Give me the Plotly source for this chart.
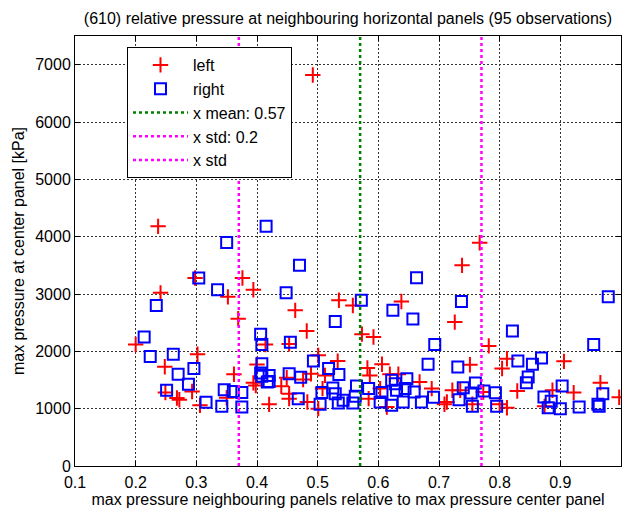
import plotly.graph_objects as go

title_text = "(610) relative pressure at neighbouring horizontal panels (95 observations)"
x_label = "max pressure neighbouring panels relative to max pressure center panel"
y_label = "max pressure at center panel [kPa]"

left_x = [0.237, 0.298, 0.376, 0.394, 0.241, 0.352, 0.369, 0.200, 0.414, 0.302, 0.248, 0.400,
          0.362, 0.394, 0.398, 0.249, 0.268, 0.272, 0.293, 0.350, 0.306, 0.420, 0.492,
          0.535, 0.558, 0.638, 0.463, 0.482, 0.573, 0.592, 0.453, 0.501, 0.533, 0.606, 0.582,
          0.586, 0.489, 0.476, 0.449, 0.440, 0.512, 0.619, 0.633, 0.668, 0.688, 0.508, 0.603,
          0.453, 0.453, 0.483, 0.501, 0.584, 0.614,
          0.767, 0.738, 0.726, 0.782, 0.812, 0.804, 0.751, 0.906, 0.966, 0.997, 0.922, 0.887,
          0.874, 0.829, 0.755, 0.773, 0.722, 0.735, 0.709, 0.713, 0.812, 0.800]
left_y = [4180, 3280, 3280, 3075, 3020, 2950, 2570, 2120, 2120, 1950, 1730, 1770,
          1600, 1450, 1405, 1280, 1185, 1155, 1300, 1190, 1060, 1075, 6820,
          2890, 2800, 2870, 2715, 2355, 2300, 2250, 2130, 1930, 1830, 1775, 1710,
          1580, 1610, 1510, 1540, 1390, 1580, 1600, 1600, 1465, 1350, 1350, 1350,
          1260, 1175, 1115, 1000, 1175, 1030,
          3895, 3500, 2510, 2095, 1870, 1700, 1767, 1825, 1453, 1200, 1280, 1320,
          1040, 1308, 1076, 1290, 1320, 1320, 1076, 1116, 1017, 1076]

right_x = [0.415, 0.350, 0.304, 0.335, 0.234, 0.406, 0.214, 0.408, 0.224, 0.262, 0.296, 0.408,
           0.270, 0.406, 0.408, 0.417, 0.287, 0.251, 0.346, 0.361, 0.375, 0.316, 0.342, 0.375,
           0.470, 0.448, 0.663, 0.572, 0.624, 0.657, 0.529, 0.455, 0.693, 0.493, 0.682, 0.518,
           0.535, 0.453, 0.472, 0.420, 0.420, 0.622, 0.647, 0.628, 0.691, 0.525, 0.564, 0.584,
           0.606, 0.630, 0.644, 0.659, 0.507, 0.529, 0.468, 0.504, 0.534, 0.558, 0.542, 0.562,
           0.603, 0.622, 0.641, 0.671,
           0.737, 0.979, 0.821, 0.955, 0.830, 0.869, 0.854, 0.731, 0.847, 0.844, 0.903, 0.970,
           0.873, 0.885, 0.880, 0.900, 0.931, 0.962, 0.964, 0.760, 0.740, 0.753, 0.733, 0.774,
           0.793, 0.795, 0.755]
right_y = [4180, 3900, 3280, 3075, 2800, 2300, 2250, 2120, 1910, 1950, 1700, 1785,
           1600, 1620, 1565, 1465, 1425, 1320, 1330, 1300, 1280, 1110, 1040, 1030,
           3500, 3020, 3285, 2890, 2715, 2565, 2520, 2160, 2120, 1830, 1775, 1700,
           1595, 1610, 1550, 1580, 1475, 1495, 1520, 1435, 1200, 1360, 1395, 1350,
           1280, 1320, 1350, 1290, 1280, 1260, 1175, 1075, 1100, 1100, 1145, 1215,
           1115, 1058, 1115, 1115,
           2870, 2950, 2355, 2120, 1830, 1885, 1773, 1727, 1552, 1453, 1395, 1262,
           1203, 1128, 1017, 1000, 1029, 1075, 1041, 1448, 1366, 1273, 1157, 1308,
           1279, 1041, 1041]

x_mean = 0.57
x_std = 0.2
y_line = [0, 7500]
x_ticks = [0.1, 0.2, 0.3, 0.4, 0.5, 0.6, 0.7, 0.8, 0.9, 1.0]
x_ticktext = ["0.1", "0.2", "0.3", "0.4", "0.5", "0.6", "0.7", "0.8", "0.9", "1"]
y_ticks = [0, 1000, 2000, 3000, 4000, 5000, 6000, 7000]

FONT = "Liberation Sans, Arial, Helvetica, sans-serif"

fig = go.Figure()
fig.add_trace(go.Scatter(x=left_x, y=left_y, mode="markers", name="left", legendgroup="a",
                         marker=dict(symbol="cross-thin", size=11, color="#ff0000",
                                     line=dict(color="#ff0000", width=2))))
fig.add_trace(go.Scatter(x=right_x, y=right_y, mode="markers", name="right", legendgroup="b",
                         marker=dict(symbol="square-open", size=11, color="#0000ff",
                                     line=dict(color="#0000ff", width=2))))
fig.add_trace(go.Scatter(x=[x_mean, x_mean], y=y_line, mode="lines", name="x mean: 0.57",
                         legendgroup="c", line=dict(color="#008000", width=2.5, dash="dot")))
fig.add_trace(go.Scatter(x=[x_mean - x_std] * 2, y=y_line, mode="lines", name="x std: 0.2",
                         legendgroup="d", line=dict(color="#ff00ff", width=2.5, dash="dot")))
fig.add_trace(go.Scatter(x=[x_mean + x_std] * 2, y=y_line, mode="lines", name="x std",
                         legendgroup="e", line=dict(color="#ff00ff", width=2.5, dash="dot")))

axis_common = dict(showline=True, linecolor="black", linewidth=1, mirror="allticks",
                   ticks="inside", ticklen=5, tickcolor="black", tickwidth=1,
                   showgrid=True, gridcolor="#333333", gridwidth=1, griddash="2px,2px",
                   zeroline=False, tickfont=dict(family=FONT, size=16, color="black"))

fig.update_layout(
    width=622, height=512,
    margin=dict(l=75, r=1, t=36, b=46),
    paper_bgcolor="white", plot_bgcolor="white",
    title=dict(text=title_text, x=0.5, xref="paper", xanchor="center",
               y=1 - 18 / 512, yref="container", yanchor="middle",
               font=dict(family=FONT, size=16, color="black")),
    xaxis=dict(range=[0.1, 1.0], tickvals=x_ticks, ticktext=x_ticktext, ticklabelstandoff=2,
               title=dict(text=x_label, standoff=2, font=dict(family=FONT, size=16, color="black")),
               **axis_common),
    yaxis=dict(range=[0, 7500], tickvals=y_ticks,
               title=dict(text=y_label, standoff=6, font=dict(family=FONT, size=16, color="black")),
               **axis_common),
    legend=dict(x=(127 - 75) / 546, y=(466 - 47) / 430, xanchor="left", yanchor="top",
                bgcolor="white", bordercolor="black", borderwidth=1,
                font=dict(family=FONT, size=16, color="black"),
                itemwidth=55, traceorder="grouped", tracegroupgap=0),
    showlegend=True,
)

fig.write_html("out.html")
